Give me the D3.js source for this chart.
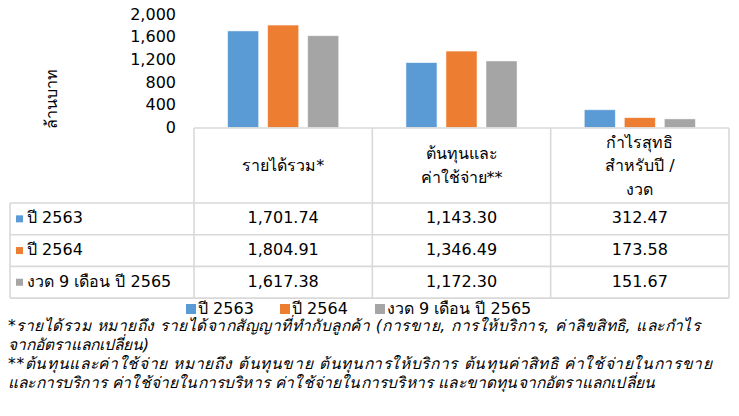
<!DOCTYPE html>
<html>
<head>
<meta charset="utf-8">
<script src="https://cdn.jsdelivr.net/npm/d3@7"></script>
<style>
  body { margin: 0; background: #fff; }
  svg text { font-family: Tahoma, "DejaVu Sans", sans-serif; fill: #000; }
</style>
</head>
<body>
<svg id="chart" width="739" height="416"></svg>
<script>
// ข้อมูลกราฟ (ล้านบาท)
const categories = ['รายได้รวม*', 'ต้นทุนและค่าใช้จ่าย**', 'กำไรสุทธิสำหรับปี / งวด'];
const headerLines = [['รายได้รวม*'], ['ต้นทุนและ', 'ค่าใช้จ่าย**'], ['กำไรสุทธิ', 'สำหรับปี /', 'งวด']];
const seriesNames = ['ปี 2563', 'ปี 2564', 'งวด 9 เดือน ปี 2565'];
const values2563 = [1701.74, 1143.30, 312.47];
const values2564 = [1804.91, 1346.49, 173.58];
const values2565 = [1617.38, 1172.30, 151.67];
const yTicks = [0, 400, 800, 1200, 1600, 2000];
const colors = ['#5B9BD5', '#ED7D31', '#A5A5A5'];
const footnotes = [
  '*รายได้รวม หมายถึง รายได้จากสัญญาที่ทำกับลูกค้า (การขาย, การให้บริการ, ค่าลิขสิทธิ, และกำไร',
  'จากอัตราแลกเปลี่ยน)',
  '**ต้นทุนและค่าใช้จ่าย หมายถึง ต้นทุนขาย ต้นทุนการให้บริการ ต้นทุนค่าสิทธิ ค่าใช้จ่ายในการขาย',
  'และการบริการ ค่าใช้จ่ายในการบริหาร ค่าใช้จ่ายในการบริหาร และขาดทุนจากอัตราแลกเปลี่ยน'
];
// ความยาวบรรทัดหมายเหตุที่วัดจากภาพ (null = ความยาวปกติ)
const footnoteWidths = [692, null, 704, 647];

const series = [values2563, values2564, values2565];
const fmt = d3.format(',.2f');

const svg = d3.select('#chart');

// ตารางและสเกล
const tableLeft = 10, tableRight = 729;
const colStart = 194;
const headTop = 128, headBottom = 203;
const rowH = 31.7;

const x = d3.scaleBand().domain(categories).range([colStart, tableRight]);
const xs = d3.scaleBand().domain(seriesNames).range([0, x.bandwidth()])
  .paddingInner(0.225).paddingOuter(0.84);
const y = d3.scaleLinear().domain([0, 2000]).range([127.5, 14]);

// แกน Y
const yAxis = svg.append('g')
  .attr('transform', 'translate(178,0)')
  .call(d3.axisLeft(y).tickValues(yTicks).tickSize(0).tickPadding(2).tickFormat(d3.format(',')));
yAxis.select('.domain').remove();
yAxis.selectAll('text').style('font-size', '16px').style('font-family', 'Tahoma, "DejaVu Sans", sans-serif');

svg.append('text')
  .attr('transform', 'translate(52,99) rotate(-90)')
  .attr('text-anchor', 'middle')
  .attr('dominant-baseline', 'middle')
  .style('font-size', '16px')
  .text('ล้านบาท');

// แท่งกราฟ
series.forEach((vals, si) => {
  svg.append('g').selectAll('rect')
    .data(vals)
    .enter()
    .append('rect')
    .attr('x', (d, i) => x(categories[i]) + xs(seriesNames[si]))
    .attr('width', xs.bandwidth())
    .attr('y', d => y(d))
    .attr('height', d => y(0) - y(d))
    .attr('fill', colors[si])
    .attr('stroke', '#fff')
    .attr('stroke-opacity', 0.6)
    .attr('stroke-width', 0.8);
});

// เส้นตาราง
const lineColor = '#d9d9d9';
const grid = svg.append('g').attr('stroke', lineColor).attr('stroke-width', 1.6).attr('fill', 'none');
const tableBottom = headBottom + rowH * 3;
grid.append('line').attr('x1', colStart).attr('x2', tableRight).attr('y1', headTop).attr('y2', headTop);
for (let r = 0; r <= 3; r++) {
  const yy = headBottom + rowH * r;
  grid.append('line').attr('x1', tableLeft).attr('x2', tableRight).attr('y1', yy).attr('y2', yy);
}
grid.append('line').attr('x1', tableLeft).attr('x2', tableLeft).attr('y1', headBottom).attr('y2', tableBottom);
categories.forEach(c => {
  grid.append('line').attr('x1', x(c)).attr('x2', x(c)).attr('y1', headTop).attr('y2', tableBottom);
});
grid.append('line').attr('x1', tableRight).attr('x2', tableRight).attr('y1', headTop).attr('y2', tableBottom);

// หัวตาราง
categories.forEach((c, i) => {
  const lines = headerLines[i];
  const cx = x(c) + x.bandwidth() / 2;
  const cy = (headTop + headBottom) / 2 + 1;
  const lh = 23.5;
  lines.forEach((t, li) => {
    svg.append('text')
      .attr('x', cx)
      .attr('y', cy + (li - (lines.length - 1) / 2) * lh)
      .attr('text-anchor', 'middle')
      .attr('dominant-baseline', 'middle')
      .style('font-size', '16px')
      .text(t);
  });
});

// แถวข้อมูล
seriesNames.forEach((s, si) => {
  const cy = headBottom + rowH * si + rowH / 2;
  svg.append('rect')
    .attr('x', 16).attr('y', cy - 3.5)
    .attr('width', 7).attr('height', 7)
    .attr('fill', colors[si]);
  svg.append('text')
    .attr('x', 27).attr('y', cy)
    .attr('dominant-baseline', 'middle')
    .style('font-size', '16px')
    .text(s);
  series[si].forEach((v, i) => {
    svg.append('text')
      .attr('x', x(categories[i]) + x.bandwidth() / 2)
      .attr('y', cy)
      .attr('text-anchor', 'middle')
      .attr('dominant-baseline', 'middle')
      .style('font-size', '16px')
      .text(fmt(v));
  });
});

// คำอธิบายสัญลักษณ์
const legendX = [186, 280, 375];
seriesNames.forEach((s, si) => {
  svg.append('rect')
    .attr('x', legendX[si]).attr('y', 304)
    .attr('width', 10).attr('height', 10)
    .attr('fill', colors[si]);
  svg.append('text')
    .attr('x', legendX[si] + 12).attr('y', 309)
    .attr('dominant-baseline', 'middle')
    .style('font-size', '16px')
    .text(s);
});

// หมายเหตุ
footnotes.forEach((t, i) => {
  const txt = svg.append('text')
    .attr('x', 8).attr('y', 326 + i * 19.3)
    .attr('dominant-baseline', 'middle')
    .style('font-size', '15.5px')
    .style('font-style', 'italic')
    .text(t);
  if (footnoteWidths[i]) {
    txt.attr('textLength', footnoteWidths[i]).attr('lengthAdjust', 'spacing');
  }
});
</script>
</body>
</html>
